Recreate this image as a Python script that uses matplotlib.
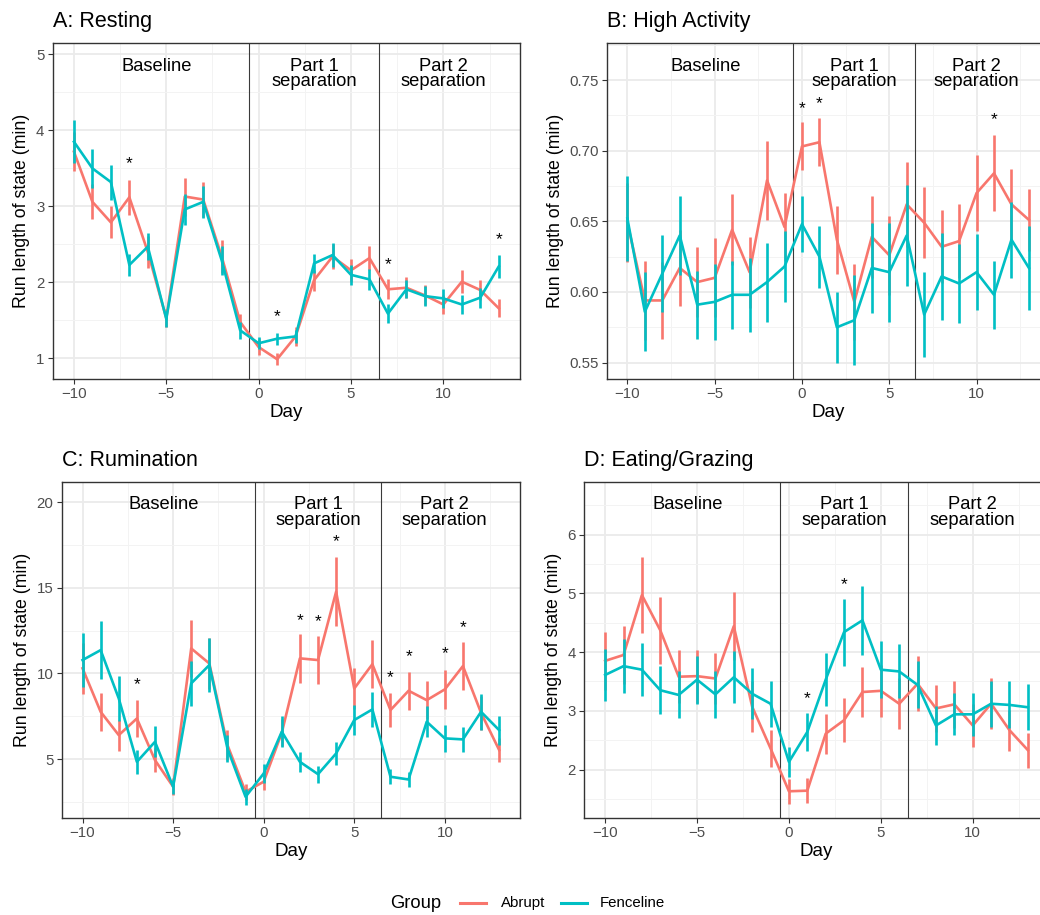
import matplotlib
matplotlib.use("Agg")
import matplotlib.pyplot as plt
import matplotlib.transforms as mtransforms
from matplotlib.lines import Line2D
import numpy as np

plt.rcParams['font.family'] = ['Liberation Sans', 'DejaVu Sans']

days = np.arange(-10, 14)

# A: Resting
rest_abrupt = [3.72, 3.06, 2.79, 3.12, 2.40, 1.53, 3.13, 3.09, 2.34, 1.48, 1.15, 0.99,
               1.29, 2.03, 2.34, 2.16, 2.32, 1.91, 1.93, 1.83, 1.71, 2.01, 1.90, 1.66]
rest_abrupt_se = [0.26, 0.23, 0.21, 0.23, 0.21, 0.12, 0.25, 0.23, 0.22, 0.11, 0.10, 0.08,
                  0.12, 0.14, 0.16, 0.15, 0.16, 0.13, 0.14, 0.13, 0.13, 0.15, 0.13, 0.12]
rest_fence = [3.85, 3.50, 3.32, 2.23, 2.47, 1.52, 2.96, 3.06, 2.29, 1.37, 1.20, 1.26,
              1.29, 2.25, 2.36, 2.10, 2.04, 1.59, 1.91, 1.82, 1.79, 1.71, 1.80, 2.21]
rest_fence_se = [0.28, 0.26, 0.23, 0.14, 0.18, 0.10, 0.20, 0.21, 0.19, 0.11, 0.08, 0.08,
                 0.08, 0.13, 0.16, 0.13, 0.14, 0.12, 0.12, 0.13, 0.13, 0.12, 0.13, 0.15]
rest_star_days = [-7, 1, 7, 13]
rest_star_y = [3.56, 1.55, 2.23, 2.56]

# B: High Activity
high_abrupt = [0.649, 0.594, 0.594, 0.617, 0.607, 0.610, 0.644, 0.614, 0.679, 0.646, 0.703, 0.706,
               0.637, 0.593, 0.639, 0.626, 0.662, 0.649, 0.632, 0.636, 0.670, 0.684, 0.662, 0.651]
high_abrupt_se = [0.028, 0.028, 0.027, 0.027, 0.025, 0.028, 0.025, 0.025, 0.028, 0.024, 0.017, 0.017,
                  0.024, 0.027, 0.029, 0.028, 0.030, 0.025, 0.026, 0.026, 0.027, 0.027, 0.025, 0.022]
high_fence = [0.652, 0.586, 0.613, 0.640, 0.591, 0.593, 0.598, 0.598, 0.607, 0.618, 0.648, 0.625,
              0.575, 0.580, 0.617, 0.614, 0.640, 0.584, 0.611, 0.606, 0.614, 0.598, 0.637, 0.617]
high_fence_se = [0.030, 0.028, 0.027, 0.028, 0.024, 0.027, 0.024, 0.026, 0.028, 0.025, 0.020, 0.022,
                 0.025, 0.032, 0.032, 0.035, 0.036, 0.030, 0.031, 0.028, 0.027, 0.024, 0.027, 0.030]
high_star_days = [0, 1, 11]
high_star_y = [0.730, 0.7335, 0.722]

# C: Rumination
rum_abrupt = [10.3, 7.76, 6.40, 7.37, 4.94, 3.39, 11.46, 10.58, 5.82, 3.09, 3.68, 6.54,
              10.88, 10.78, 14.77, 9.12, 10.54, 7.86, 8.99, 8.44, 9.07, 10.43, 7.70, 5.53]
rum_abrupt_se = [1.5, 1.1, 0.9, 1.1, 0.7, 0.5, 1.65, 1.5, 0.9, 0.45, 0.5, 0.8,
                 1.45, 1.4, 2.0, 1.2, 1.4, 1.0, 1.1, 1.1, 1.15, 1.4, 1.0, 0.7]
rum_fence = [10.78, 11.36, 8.54, 4.84, 6.01, 3.39, 9.42, 10.49, 5.62, 2.80, 4.16, 6.60,
             4.84, 4.12, 5.33, 7.28, 7.90, 3.97, 3.81, 7.18, 6.21, 6.15, 7.76, 6.69]
rum_fence_se = [1.6, 1.7, 1.3, 0.7, 0.9, 0.4, 1.3, 1.6, 0.8, 0.45, 0.55, 0.9,
                0.6, 0.5, 0.65, 0.9, 1.0, 0.45, 0.45, 0.9, 0.8, 0.75, 1.05, 0.85]
rum_star_days = [-7, 2, 3, 4, 7, 8, 10, 11]
rum_star_y = [9.32, 13.1, 13.0, 17.7, 9.77, 11.0, 11.17, 12.7]

# D: Eating/Grazing
eat_abrupt = [3.85, 3.95, 4.97, 4.37, 3.58, 3.59, 3.55, 4.44, 3.07, 2.36, 1.63, 1.64,
              2.61, 2.84, 3.32, 3.34, 3.12, 3.46, 3.04, 3.11, 2.75, 3.12, 2.67, 2.33]
eat_abrupt_se = [0.49, 0.50, 0.65, 0.57, 0.45, 0.45, 0.44, 0.58, 0.43, 0.31, 0.21, 0.21,
                 0.34, 0.37, 0.43, 0.44, 0.43, 0.47, 0.40, 0.40, 0.36, 0.43, 0.35, 0.30]
eat_fence = [3.61, 3.76, 3.70, 3.35, 3.27, 3.53, 3.28, 3.57, 3.29, 3.12, 2.13, 2.64,
             3.53, 4.34, 4.54, 3.70, 3.67, 3.44, 2.75, 2.94, 2.94, 3.12, 3.10, 3.06]
eat_fence_se = [0.45, 0.46, 0.45, 0.41, 0.40, 0.41, 0.40, 0.44, 0.43, 0.39, 0.25, 0.33,
                0.45, 0.57, 0.59, 0.48, 0.46, 0.40, 0.34, 0.36, 0.37, 0.39, 0.40, 0.39]
eat_star_days = [1, 3]
eat_star_y = [3.21, 5.14]

period_labels = ["Baseline", "Part 1\nseparation", "Part 2\nseparation"]
period_x = [-5.5, 3, 10]
period_breaks = [-0.5, 6.5]

groups = ["Abrupt", "Fenceline"]
red = "#F8766D"
cyan = "#00BFC4"

W, H = 1040, 915
fig = plt.figure(figsize=(W / 100, H / 100), dpi=100)


def make_ax(left, right, top, bottom):
    return fig.add_axes([left / W, 1 - bottom / H, (right - left) / W, (bottom - top) / H])


def panel(ax, title, ab, ab_se, fe, fe_se, sdays, sy, ylim, yticks, fmt):
    ax.set_xlim(-11.15, 14.15)
    ax.set_xticks([-10, -5, 0, 5, 10])
    ax.set_xticks([-7.5, -2.5, 2.5, 7.5, 12.5], minor=True)
    step = yticks[1] - yticks[0]
    ax.set_yticks(yticks)
    ax.set_yticks([v + step / 2 for v in yticks] + [yticks[0] - step / 2], minor=True)
    ax.set_yticklabels([fmt.format(v) for v in yticks])
    ax.set_ylim(*ylim)
    ax.grid(which="major", color="#EBEBEB", lw=1.3)
    ax.grid(which="minor", color="#F3F3F3", lw=0.7)
    ax.set_axisbelow(True)
    ax.tick_params(which="major", length=3.5, width=0.8, color="#333333",
                   labelcolor="#4D4D4D", labelsize=10.8, pad=2.5)
    ax.tick_params(which="minor", length=0)
    for s in ax.spines.values():
        s.set_color("#333333")
        s.set_linewidth(1.0)
    for b in period_breaks:
        ax.axvline(b, color="#3a3a3a", lw=0.8, zorder=1)
    tr = mtransforms.blended_transform_factory(ax.transData, ax.transAxes)
    for lab, x in zip(period_labels, period_x):
        ax.text(x, 0.957, lab, transform=tr, ha="center", va="top", fontsize=13.2,
                linespacing=0.88)
    ab, ab_se, fe, fe_se = map(np.array, (ab, ab_se, fe, fe_se))
    ax.vlines(days, ab - ab_se, ab + ab_se, color=red, lw=1.9, zorder=3)
    ax.plot(days, ab, color=red, lw=1.9, zorder=3)
    ax.vlines(days, fe - fe_se, fe + fe_se, color=cyan, lw=1.9, zorder=4)
    ax.plot(days, fe, color=cyan, lw=1.9, zorder=4)
    for d, y in zip(sdays, sy):
        ax.text(d, y, "*", ha="center", va="center", fontsize=12.5)
    ax.set_xlabel("Day", fontsize=13.5, labelpad=2)
    ax.set_ylabel("Run length of state (min)", fontsize=12.8, labelpad=4)
    ax.set_title(title, loc="left", fontsize=15.5, pad=11.5)


axA = make_ax(52.7, 520, 43.3, 379)
panel(axA, "A: Resting", rest_abrupt, rest_abrupt_se, rest_fence, rest_fence_se,
      rest_star_days, rest_star_y, (0.73, 5.145), [1, 2, 3, 4, 5], "{:g}")

axB = make_ax(607.3, 1049, 43.3, 379)
panel(axB, "B: High Activity", high_abrupt, high_abrupt_se, high_fence, high_fence_se,
      high_star_days, high_star_y, (0.5384, 0.776), [0.55, 0.60, 0.65, 0.70, 0.75], "{:.2f}")

axC = make_ax(61.7, 520, 481.7, 817.7)
panel(axC, "C: Rumination", rum_abrupt, rum_abrupt_se, rum_fence, rum_fence_se,
      rum_star_days, rum_star_y, (1.58, 21.19), [5, 10, 15, 20], "{:g}")

axD = make_ax(584, 1049, 481.7, 817.7)
panel(axD, "D: Eating/Grazing", eat_abrupt, eat_abrupt_se, eat_fence, eat_fence_se,
      eat_star_days, eat_star_y, (1.18, 6.90), [2, 3, 4, 5, 6], "{:g}")

# legend laid out in one row: title, then keys
ly = 1 - 903 / H
fig.text(390.5 / W, ly, "Group", ha="left", va="center", fontsize=13.2)
for (x0, x1, tx), lab, col in zip([(460, 486, 500.5), (561, 587, 599.5)], groups, [red, cyan]):
    fig.add_artist(Line2D([x0 / W, x1 / W], [ly, ly], color=col, lw=2.2,
                          transform=fig.transFigure))
    fig.text(tx / W, ly, lab, ha="left", va="center", fontsize=10.8)

fig.savefig("out.png", dpi=100)
